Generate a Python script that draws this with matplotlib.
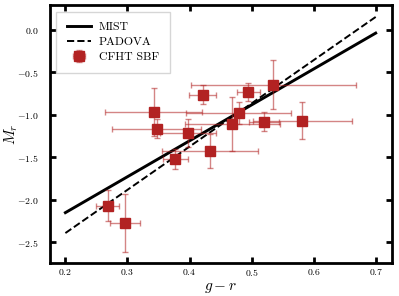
import numpy as np
import matplotlib
matplotlib.use("Agg")
import matplotlib.pyplot as plt

# === フォント設定 ===
plt.rcParams['font.family'] = 'serif'
plt.rcParams['font.serif'] = ['cmr10', 'DejaVu Serif']
plt.rcParams['mathtext.fontset'] = 'cm'
plt.rcParams['axes.formatter.use_mathtext'] = True

# === モデル線 ===
model_x = [0.2, 0.7]
mist_y = [-2.15, -0.04]
padova_y = [-2.39, 0.15]

# === CFHT SBF データ ===
gr = [0.342, 0.347, 0.398, 0.421, 0.377, 0.433, 0.469, 0.479, 0.520, 0.582, 0.535, 0.495, 0.268, 0.296]
gr_err = [0.078, 0.072, 0.045, 0.022, 0.020, 0.078, 0.077, 0.085, 0.024, 0.080, 0.133, 0.018, 0.019, 0.024]
mr = [-0.97, -1.165, -1.215, -0.765, -1.52, -1.43, -1.105, -0.98, -1.08, -1.07, -0.647, -0.737, -2.067, -2.267]
mr_err = [0.28, 0.11, 0.16, 0.11, 0.12, 0.20, 0.32, 0.13, 0.11, 0.22, 0.29, 0.105, 0.18, 0.34]

red = '#b22222'

fig = plt.figure(figsize=(3.99, 2.96), dpi=100)
ax = fig.add_axes([0.125, 0.112, 0.857, 0.871])

ax.plot(model_x, mist_y, color='k', lw=2.1, label='MIST')
ax.plot(model_x, padova_y, color='k', lw=1.4, ls='--', label='PADOVA')
eb = ax.errorbar(gr, mr, xerr=gr_err, yerr=mr_err, fmt='s', color=red, ms=7,
                 ecolor=red, elinewidth=1.0, capsize=2, label='CFHT SBF')
# エラーバーを少し薄く
for coll in eb[2]:
    coll.set_alpha(0.55)
for ln in eb[1]:
    ln.set_alpha(0.55)

ax.set_xlim(0.175, 0.726)
ax.set_ylim(-2.74, 0.29)
ax.set_xticks([0.2, 0.3, 0.4, 0.5, 0.6, 0.7])
ax.set_yticks([0.0, -0.5, -1.0, -1.5, -2.0, -2.5])
ax.set_xlabel('$g - r$', fontsize=11, labelpad=2)
ax.set_ylabel('$M_r$', fontsize=11)
ax.yaxis.set_label_coords(-0.088, 0.5)

for s in ax.spines.values():
    s.set_linewidth(2)
ax.tick_params(direction='in', top=True, right=True, length=4, width=2, labelsize=7)
ax.tick_params(axis='x', pad=3)
ax.tick_params(axis='y', pad=8)

ax.legend(loc='upper left', fontsize=8.5, frameon=True, fancybox=False,
          edgecolor='#cccccc', handlelength=2.0, handletextpad=0.7,
          borderpad=0.9, labelspacing=0.4, borderaxespad=0.55)

fig.savefig('out.png', dpi=100)
